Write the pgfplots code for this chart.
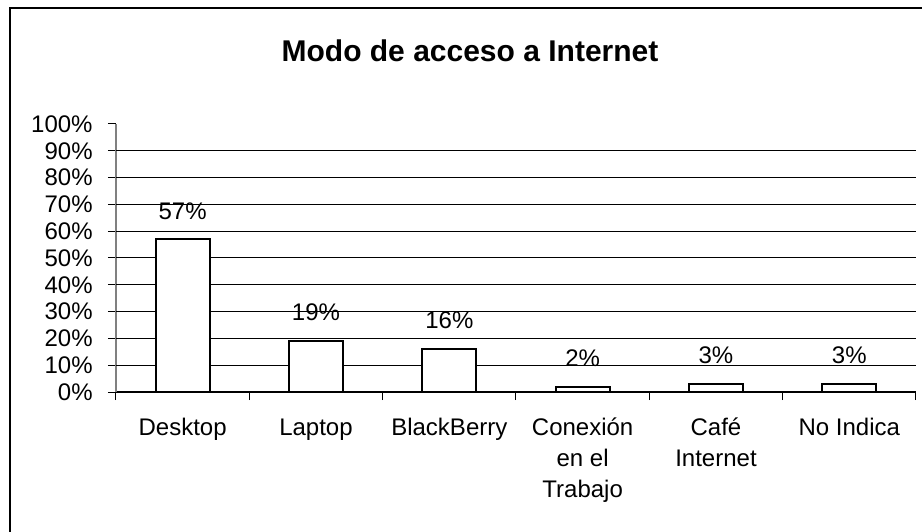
\documentclass[border=0pt]{standalone}
\usepackage{fontspec}
\setmainfont{Liberation Sans}
\usepackage{pgfplots}
\pgfplotsset{compat=1.18}
\newcommand{\fl}{\rule{0pt}{9pt}}
\begin{document}
\begin{tikzpicture}
\useasboundingbox (0,0) rectangle (461pt,265.5pt);
\draw[line width=1pt] (5pt,-20pt) -- (5pt,261.5pt) -- (480pt,261.5pt);
\node[font=\fontsize{15}{18}\selectfont\bfseries] at (235pt,240pt) {Modo de acceso a Internet};
\begin{axis}[
  at={(58pt,69.5pt)}, anchor=south west,
  scale only axis, width=400pt, height=134pt,
  ybar, bar width=0.405,
  xmin=-0.5, xmax=5.5, ymin=0, ymax=100,
  enlargelimits=false,
  axis lines*=left,
  x axis line style={black, line width=0.6pt},
  y axis line style={gray, line width=0.6pt},
  tick align=outside,
  major tick length=4pt,
  tick style={black, line width=0.5pt},
  xtick={-0.5,0.5,...,5.5},
  xticklabels={},
  extra x ticks={0,1,2,3,4,5},
  extra x tick labels={\fl Desktop,\fl Laptop,\fl BlackBerry,{\fl Conexión\\en el\\Trabajo},{\fl Café\\Internet},\fl No Indica},
  extra x tick style={major tick length=0pt},
  x tick label style={font=\fontsize{12}{15.5}\selectfont, align=center, anchor=north, inner sep=0pt, yshift=-12.5pt},
  ytick={0,10,...,100},
  yticklabel={\pgfmathprintnumber{\tick}\%},
  y tick label style={font=\fontsize{12}{14}\selectfont, anchor=east, inner sep=0pt, xshift=-7.5pt},
  /pgf/number format/assume math mode=true,
  extra y ticks={10,20,...,90},
  extra y tick labels={},
  extra y tick style={grid=major, major tick length=0pt},
  major grid style={black, line width=0.5pt},
  nodes near coords={\pgfmathprintnumber{\pgfplotspointmeta}\%},
  every node near coord/.append style={font=\fontsize{12}{14}\selectfont, anchor=south, inner sep=0pt, yshift=9.5pt, black},
]
\addplot[fill=white, draw=black, line width=1pt] coordinates {(0,57) (1,19) (2,16) (3,2) (4,3) (5,3)};
\end{axis}
\end{tikzpicture}
\end{document}
